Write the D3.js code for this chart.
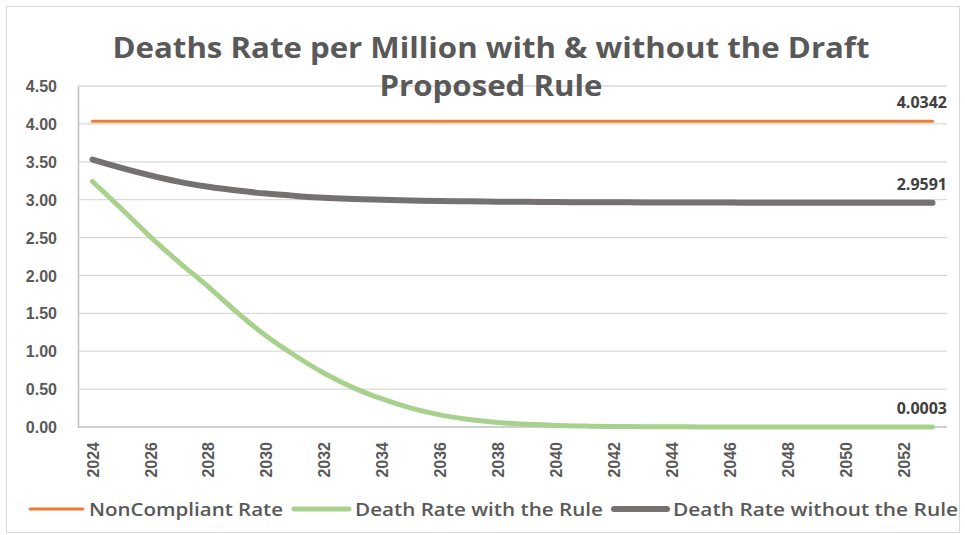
<!DOCTYPE html>
<html>
<head>
<meta charset="utf-8">
<script src="https://cdn.jsdelivr.net/npm/d3@7"></script>
<style>
  html, body { margin: 0; padding: 0; background: #fff; }
  svg { display: block; font-family: "Open Sans", "Noto Sans", sans-serif; }
</style>
</head>
<body>
<svg id="chart" width="965" height="535"></svg>
<script>
// Years on the category axis
const years = d3.range(2024, 2054);

// Series values (deaths per million)
const nonCompliant = years.map(() => 4.0342);
const withRule = [3.24, 2.88, 2.51, 2.17, 1.85, 1.51, 1.20, 0.94, 0.71, 0.52,
                  0.37, 0.25, 0.16, 0.10, 0.06, 0.035, 0.02, 0.012, 0.007, 0.004,
                  0.0025, 0.0016, 0.0011, 0.0008, 0.0006, 0.0005, 0.0004, 0.0004, 0.0003, 0.0003];
const withoutRule = [3.53, 3.42, 3.32, 3.235, 3.17, 3.12, 3.08, 3.05, 3.025, 3.01,
                     2.998, 2.99, 2.983, 2.978, 2.974, 2.971, 2.968, 2.966, 2.965, 2.964,
                     2.963, 2.962, 2.961, 2.9605, 2.960, 2.9597, 2.9595, 2.9593, 2.9592, 2.9591];

const yTicks = [0, 0.5, 1, 1.5, 2, 2.5, 3, 3.5, 4, 4.5];
const xTickYears = years.filter((d, i) => i % 2 === 0);

const seriesNames = ["NonCompliant Rate", "Death Rate with the Rule", "Death Rate without the Rule"];
const seriesColors = ["#ED7D31", "#A9D18E", "#767171"];
const seriesWidths = [3, 5, 6];
const seriesValues = [nonCompliant, withRule, withoutRule];
const endLabels = ["4.0342", "0.0003", "2.9591"];

const svg = d3.select("#chart");
const plot = { left: 78, right: 947, top: 86, bottom: 427 };

// Outer chart frame
svg.append("rect")
  .attr("x", 6.5).attr("y", 6.5).attr("width", 953).attr("height", 526)
  .attr("fill", "#fff").attr("stroke", "#D9D9D9").attr("stroke-width", 1);

const x = d3.scalePoint().domain(years).range([plot.left, plot.right]).padding(0.5);
const y = d3.scaleLinear().domain([0, 4.5]).range([plot.bottom, plot.top]);

// Horizontal gridlines
svg.append("g")
  .selectAll("line")
  .data(yTicks.filter(d => d > 0))
  .join("line")
  .attr("x1", plot.left).attr("x2", plot.right)
  .attr("y1", d => y(d)).attr("y2", d => y(d))
  .attr("stroke", "#D9D9D9").attr("stroke-width", 1.3);

// Value axis
const yAxis = svg.append("g")
  .attr("transform", `translate(${plot.left},0)`)
  .call(d3.axisLeft(y).tickValues(yTicks).tickFormat(d3.format(".2f")).tickSize(0).tickPadding(21));
yAxis.select(".domain").attr("stroke", "#BFBFBF").attr("stroke-width", 1.5);
yAxis.selectAll("text")
  .attr("fill", "#595959").attr("font-size", 16).attr("font-weight", 700)
  .attr("dy", "0.35em");

// Category axis
const xAxis = svg.append("g")
  .attr("transform", `translate(0,${plot.bottom})`)
  .call(d3.axisBottom(x).tickValues(xTickYears).tickSize(0).tickSizeOuter(0));
xAxis.select(".domain").attr("stroke", "#BFBFBF").attr("stroke-width", 1.5)
  .attr("d", `M${plot.left},0H${plot.right}`);
xAxis.selectAll("text")
  .attr("fill", "#595959").attr("font-size", 16).attr("font-weight", 700)
  .attr("text-anchor", "end")
  .attr("transform", "rotate(-90)")
  .attr("x", -15).attr("y", 0).attr("dy", "0.35em");

// Series lines
const line = d3.line()
  .x((d, i) => x(years[i]))
  .y(d => y(d))
  .curve(d3.curveMonotoneX);

svg.append("g")
  .selectAll("path")
  .data([0, 1, 2])
  .join("path")
  .attr("d", k => line(seriesValues[k]))
  .attr("fill", "none")
  .attr("stroke", k => seriesColors[k])
  .attr("stroke-width", k => seriesWidths[k])
  .attr("stroke-linecap", "round")
  .attr("stroke-linejoin", "round");

// Final-year value labels
svg.append("g")
  .selectAll("text")
  .data([0, 1, 2])
  .join("text")
  .attr("x", plot.right)
  .attr("y", k => y(seriesValues[k][years.length - 1]) - 13)
  .attr("text-anchor", "end")
  .attr("fill", "#404040").attr("font-size", 16).attr("font-weight", 700)
  .text(k => endLabels[k]);

// Title
const title = svg.append("text")
  .attr("text-anchor", "middle")
  .attr("fill", "#595959").attr("font-size", 29).attr("font-weight", 700);
title.append("tspan").attr("x", 491).attr("y", 58)
  .attr("textLength", 757).attr("lengthAdjust", "spacingAndGlyphs")
  .text("Deaths Rate per Million with & without the Draft");
title.append("tspan").attr("x", 491).attr("y", 96)
  .attr("textLength", 223).attr("lengthAdjust", "spacingAndGlyphs")
  .text("Proposed Rule");

// Legend
const legendItems = [
  { k: 0, x1: 30, x2: 83, tx: 89, tw: 194 },
  { k: 1, x1: 294, x2: 349, tx: 355, tw: 248 },
  { k: 2, x1: 614, x2: 667, tx: 673, tw: 285 }
];
const legend = svg.append("g");
legend.selectAll("line")
  .data(legendItems)
  .join("line")
  .attr("x1", d => d.x1).attr("x2", d => d.x2)
  .attr("y1", 509).attr("y2", 509)
  .attr("stroke", d => seriesColors[d.k])
  .attr("stroke-width", d => seriesWidths[d.k])
  .attr("stroke-linecap", "round");
legend.selectAll("text")
  .data(legendItems)
  .join("text")
  .attr("x", d => d.tx).attr("y", 516)
  .attr("fill", "#595959").attr("font-size", 18).attr("font-weight", 600)
  .attr("textLength", d => d.tw).attr("lengthAdjust", "spacingAndGlyphs")
  .text(d => seriesNames[d.k]);
</script>
</body>
</html>
